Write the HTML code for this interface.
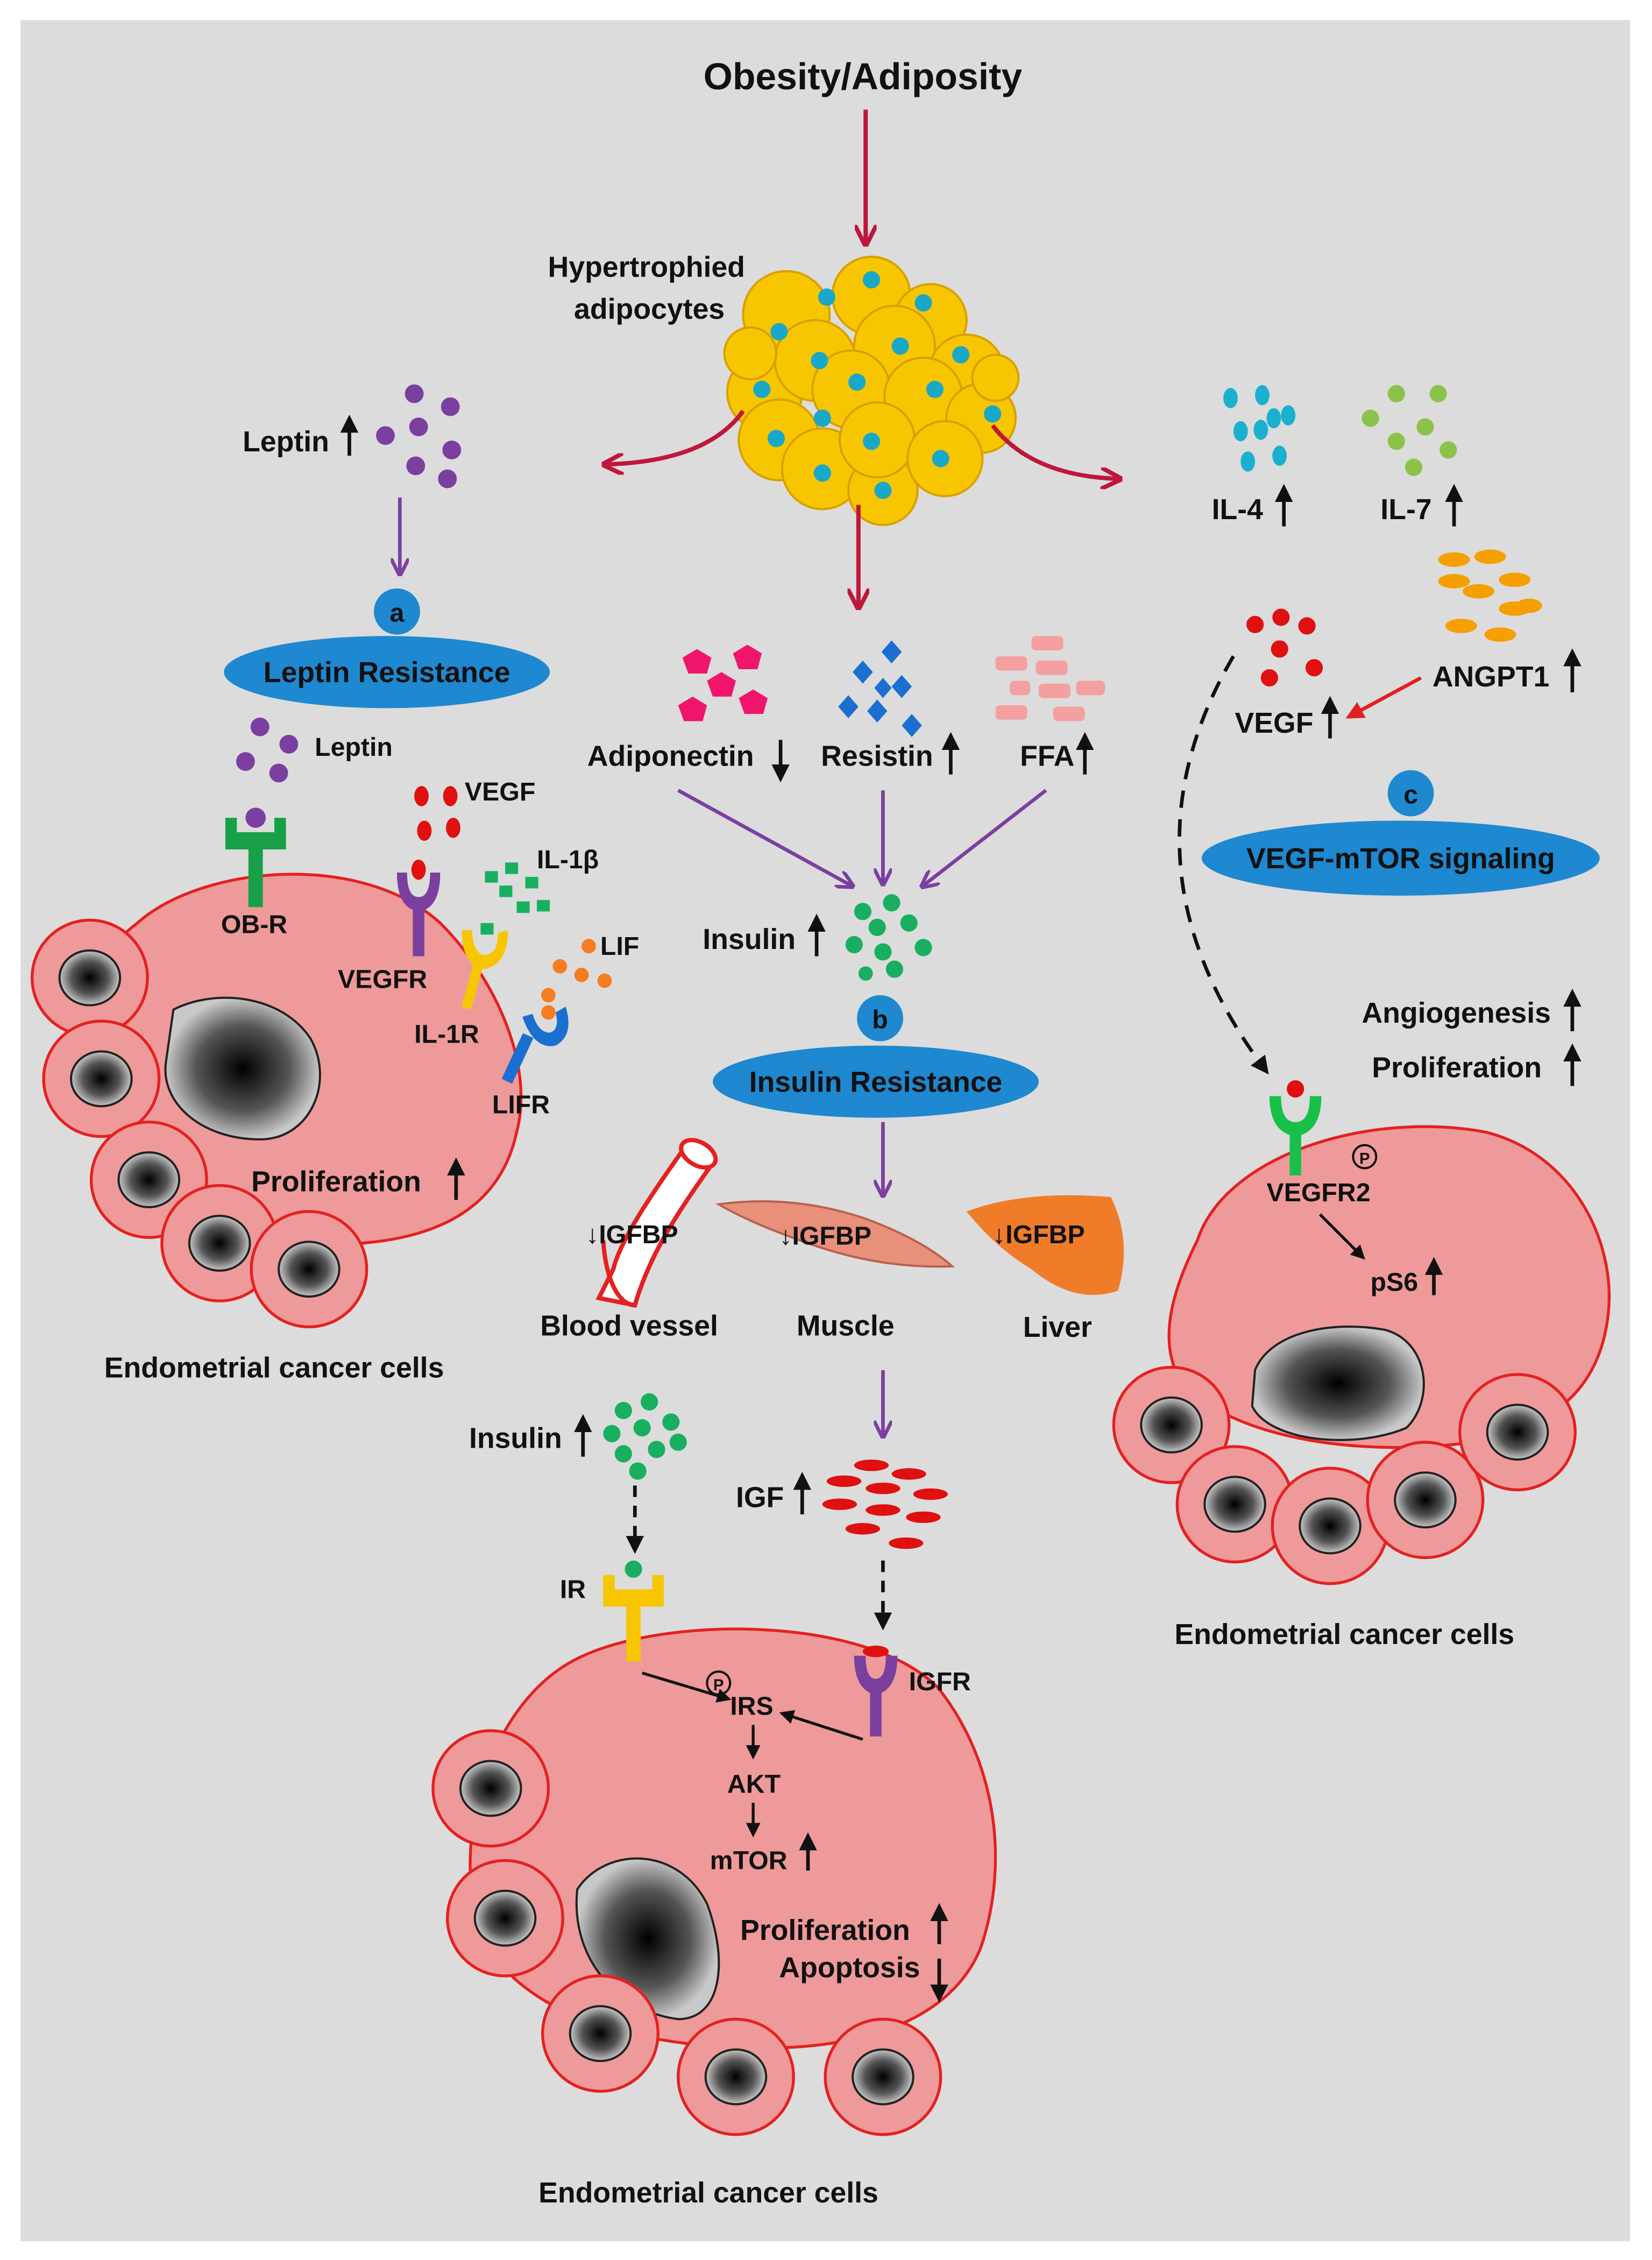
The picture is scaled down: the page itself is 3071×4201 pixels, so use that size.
<!DOCTYPE html>
<html><head><meta charset="utf-8"><style>
html,body{margin:0;padding:0;background:#fff}
svg{display:block}
text{font-family:"Liberation Sans",sans-serif;font-weight:bold;fill:#111}
</style></head><body>
<svg width="3071" height="4201" viewBox="0 0 1145 1567" xmlns="http://www.w3.org/2000/svg">
<defs>
<radialGradient id="nuc" cx="50%" cy="50%" r="50%">
<stop offset="0" stop-color="#000"/><stop offset="0.6" stop-color="#555"/><stop offset="1" stop-color="#c8c8c8"/></radialGradient>
<marker id="ar" viewBox="0 0 10 10" refX="8" refY="5" markerWidth="5" markerHeight="5" orient="auto"><path d="M0,0 L10,5 L0,10" fill="none" stroke="#c0163a" stroke-width="2"/></marker>
<marker id="ap" viewBox="0 0 10 10" refX="8" refY="5" markerWidth="5" markerHeight="5" orient="auto"><path d="M0,0 L10,5 L0,10" fill="none" stroke="#7b3fa0" stroke-width="2"/></marker>
<marker id="ak" viewBox="0 0 10 10" refX="8" refY="5" markerWidth="5" markerHeight="5" orient="auto"><path d="M0,0 L10,5 L0,10 Z" fill="#111"/></marker>
<marker id="ao" viewBox="0 0 10 10" refX="8" refY="5" markerWidth="5" markerHeight="5" orient="auto"><path d="M0,0 L10,5 L0,10 Z" fill="#e02020"/></marker>
<g id="sc"><circle r="40" fill="#ef9a9a" stroke="#e52020" stroke-width="2"/><ellipse rx="21" ry="19" fill="url(#nuc)" stroke="#222" stroke-width="1.5"/></g>
</defs>
<rect width="1145" height="1567" fill="#fff"/>
<rect x="14" y="14" width="1116" height="1540" fill="#dcdcdc"/>

<text x="598" y="62" font-size="26" text-anchor="middle">Obesity/Adiposity</text>
<line x1="600" y1="76" x2="600" y2="168" stroke="#c0163a" stroke-width="3" marker-end="url(#ar)"/>
<text x="448" y="192" font-size="20" text-anchor="middle">Hypertrophied</text>
<text x="450" y="221" font-size="20" text-anchor="middle">adipocytes</text>

<g fill="#f7c600" stroke="#d9a000" stroke-width="1.5">
<circle cx="545" cy="218" r="30"/><circle cx="604" cy="205" r="27"/><circle cx="645" cy="222" r="25"/>
<circle cx="530" cy="272" r="26"/><circle cx="565" cy="250" r="28"/><circle cx="620" cy="240" r="28"/><circle cx="670" cy="258" r="26"/>
<circle cx="540" cy="305" r="28"/><circle cx="590" cy="270" r="27"/><circle cx="640" cy="275" r="27"/><circle cx="680" cy="290" r="24"/>
<circle cx="570" cy="325" r="28"/><circle cx="612" cy="340" r="24"/><circle cx="608" cy="305" r="26"/><circle cx="655" cy="318" r="26"/>
<circle cx="520" cy="245" r="18"/><circle cx="690" cy="262" r="16"/>
</g>
<g fill="#1aa8c8">
<circle cx="573" cy="206" r="6"/><circle cx="604" cy="194" r="6"/><circle cx="640" cy="210" r="6"/><circle cx="540" cy="230" r="6"/>
<circle cx="568" cy="250" r="6"/><circle cx="624" cy="240" r="6"/><circle cx="666" cy="246" r="6"/><circle cx="528" cy="270" r="6"/>
<circle cx="594" cy="265" r="6"/><circle cx="648" cy="270" r="6"/><circle cx="688" cy="287" r="6"/><circle cx="570" cy="290" r="6"/>
<circle cx="538" cy="304" r="6"/><circle cx="604" cy="306" r="6"/><circle cx="652" cy="318" r="6"/><circle cx="570" cy="328" r="6"/><circle cx="612" cy="340" r="6"/>
</g>
<path d="M515,285 Q490,320 420,322" fill="none" stroke="#c0163a" stroke-width="3" marker-end="url(#ar)"/>
<path d="M688,295 Q715,330 775,332" fill="none" stroke="#c0163a" stroke-width="3" marker-end="url(#ar)"/>
<line x1="595" y1="350" x2="595" y2="420" stroke="#c0163a" stroke-width="3" marker-end="url(#ar)"/>

<text x="168" y="313" font-size="20">Leptin</text>
<line x1="242" y1="316" x2="242" y2="290" stroke="#111" stroke-width="2.5" marker-end="url(#ak)"/>
<g fill="#7b3fa0"><circle cx="287" cy="273" r="6.5"/><circle cx="312" cy="282" r="6.5"/><circle cx="267" cy="302" r="6.5"/><circle cx="290" cy="296" r="6.5"/>
<circle cx="313" cy="312" r="6.5"/><circle cx="288" cy="323" r="6.5"/><circle cx="310" cy="332" r="6.5"/></g>
<line x1="277" y1="345" x2="277" y2="397" stroke="#7b3fa0" stroke-width="2.5" marker-end="url(#ap)"/>
<circle cx="275" cy="424" r="16" fill="#1e88d0"/><text x="275" y="431" font-size="18" text-anchor="middle">a</text>
<ellipse cx="268" cy="466" rx="113" ry="25" fill="#1e88d0"/>
<text x="268" y="473" font-size="20" text-anchor="middle">Leptin Resistance</text>
<g fill="#7b3fa0"><circle cx="180" cy="504" r="6.5"/><circle cx="200" cy="516" r="6.5"/><circle cx="170" cy="528" r="6.5"/><circle cx="193" cy="536" r="6.5"/></g>
<text x="218" y="524" font-size="18">Leptin</text>

<g fill="#1ab0d0"><ellipse cx="853" cy="276" rx="5" ry="7"/><ellipse cx="875" cy="274" rx="5" ry="7"/><ellipse cx="860" cy="299" rx="5" ry="7"/><ellipse cx="883" cy="290" rx="5" ry="7"/><ellipse cx="893" cy="288" rx="5" ry="7"/><ellipse cx="865" cy="320" rx="5" ry="7"/><ellipse cx="887" cy="316" rx="5" ry="7"/><ellipse cx="874" cy="298" rx="5" ry="7"/></g>
<g fill="#8bc34a"><circle cx="968" cy="273" r="6"/><circle cx="997" cy="273" r="6"/><circle cx="950" cy="290" r="6"/><circle cx="988" cy="296" r="6"/><circle cx="968" cy="306" r="6"/><circle cx="1004" cy="312" r="6"/><circle cx="980" cy="324" r="6"/></g>
<text x="840" y="360" font-size="20">IL-4</text><line x1="890" y1="365" x2="890" y2="338" stroke="#111" stroke-width="2.5" marker-end="url(#ak)"/>
<text x="957" y="360" font-size="20">IL-7</text><line x1="1008" y1="365" x2="1008" y2="338" stroke="#111" stroke-width="2.5" marker-end="url(#ak)"/>

<g fill="#f5a000"><ellipse cx="1008" cy="388" rx="11" ry="5"/><ellipse cx="1033" cy="386" rx="11" ry="5"/><ellipse cx="1008" cy="403" rx="11" ry="5"/><ellipse cx="1050" cy="402" rx="11" ry="5"/><ellipse cx="1025" cy="410" rx="11" ry="5"/><ellipse cx="1050" cy="422" rx="11" ry="5"/><ellipse cx="1013" cy="434" rx="11" ry="5"/><ellipse cx="1040" cy="440" rx="11" ry="5"/><ellipse cx="1060" cy="420" rx="9" ry="5"/></g>
<g fill="#e01010"><circle cx="870" cy="433" r="6"/><circle cx="888" cy="428" r="6"/><circle cx="906" cy="434" r="6"/><circle cx="887" cy="450" r="6"/><circle cx="880" cy="470" r="6"/><circle cx="911" cy="463" r="6"/></g>
<text x="993" y="476" font-size="20">ANGPT1</text><line x1="1090" y1="480" x2="1090" y2="452" stroke="#111" stroke-width="2.5" marker-end="url(#ak)"/>
<line x1="985" y1="470" x2="935" y2="497" stroke="#e02020" stroke-width="2.5" marker-end="url(#ao)"/>
<text x="856" y="508" font-size="20">VEGF</text><line x1="922" y1="512" x2="922" y2="485" stroke="#111" stroke-width="2.5" marker-end="url(#ak)"/>
<circle cx="978" cy="550" r="16" fill="#1e88d0"/><text x="978" y="557" font-size="18" text-anchor="middle">c</text>
<ellipse cx="971" cy="595" rx="138" ry="26" fill="#1e88d0"/>
<text x="971" y="602" font-size="20" text-anchor="middle">VEGF-mTOR signaling</text>
<path d="M855,455 Q770,600 878,743" fill="none" stroke="#111" stroke-width="2.5" stroke-dasharray="12,8" marker-end="url(#ak)"/>
<text x="944" y="709" font-size="20">Angiogenesis</text><line x1="1090" y1="715" x2="1090" y2="688" stroke="#111" stroke-width="2.5" marker-end="url(#ak)"/>
<text x="951" y="747" font-size="20">Proliferation</text><line x1="1090" y1="753" x2="1090" y2="726" stroke="#111" stroke-width="2.5" marker-end="url(#ak)"/>

<g fill="#f0156a"><polygon points="483,450 493,456 490,467 477,467 473,456"/><polygon points="518,447 528,453 525,464 512,464 508,453"/><polygon points="500,466 510,472 507,483 494,483 490,472"/><polygon points="480,483 490,489 487,500 474,500 470,489"/><polygon points="522,478 532,484 529,495 516,495 512,484"/></g>
<g fill="#1a6fd0"><polygon points="618,444 625,452 618,460 611,452"/><polygon points="598,458 605,466 598,474 591,466"/><polygon points="625,468 632,476 625,484 618,476"/><polygon points="588,482 595,490 588,498 581,490"/><polygon points="608,485 615,493 608,501 601,493"/><polygon points="632,495 639,503 632,511 625,503"/><polygon points="612,470 618,477 612,484 606,477"/></g>
<g fill="#f4a0a0"><rect x="715" y="441" width="22" height="10" rx="3"/><rect x="690" y="455" width="22" height="10" rx="3"/><rect x="718" y="458" width="22" height="10" rx="3"/><rect x="746" y="472" width="20" height="10" rx="3"/><rect x="720" y="474" width="22" height="10" rx="3"/><rect x="690" y="489" width="22" height="10" rx="3"/><rect x="730" y="490" width="22" height="10" rx="3"/><rect x="700" y="472" width="14" height="10" rx="3"/></g>
<text x="407" y="531" font-size="20">Adiponectin</text><line x1="541" y1="513" x2="541" y2="540" stroke="#111" stroke-width="2.5" marker-end="url(#ak)"/>
<text x="569" y="531" font-size="20">Resistin</text><line x1="659" y1="537" x2="659" y2="510" stroke="#111" stroke-width="2.5" marker-end="url(#ak)"/>
<text x="707" y="531" font-size="20">FFA</text><line x1="752" y1="537" x2="752" y2="510" stroke="#111" stroke-width="2.5" marker-end="url(#ak)"/>
<line x1="470" y1="548" x2="590" y2="614" stroke="#7b3fa0" stroke-width="2.5" marker-end="url(#ap)"/>
<line x1="612" y1="548" x2="612" y2="612" stroke="#7b3fa0" stroke-width="2.5" marker-end="url(#ap)"/>
<line x1="725" y1="548" x2="640" y2="614" stroke="#7b3fa0" stroke-width="2.5" marker-end="url(#ap)"/>
<g fill="#18b060"><circle cx="598" cy="632" r="6"/><circle cx="618" cy="626" r="6"/><circle cx="608" cy="643" r="6"/><circle cx="630" cy="640" r="6"/><circle cx="592" cy="655" r="6"/><circle cx="612" cy="660" r="6"/><circle cx="640" cy="657" r="6"/><circle cx="620" cy="672" r="6"/><circle cx="600" cy="675" r="5"/></g>
<text x="487" y="658" font-size="20">Insulin</text><line x1="566" y1="663" x2="566" y2="636" stroke="#111" stroke-width="2.5" marker-end="url(#ak)"/>
<circle cx="610" cy="706" r="16" fill="#1e88d0"/><text x="610" y="713" font-size="18" text-anchor="middle">b</text>
<ellipse cx="607" cy="750" rx="113" ry="25" fill="#1e88d0"/>
<text x="607" y="757" font-size="20" text-anchor="middle">Insulin Resistance</text>
<line x1="612" y1="778" x2="612" y2="828" stroke="#7b3fa0" stroke-width="2.5" marker-end="url(#ap)"/>

<!-- tissues -->
<path d="M475,795 C450,830 430,860 425,880 L415,900 L440,905 C450,870 470,840 495,805 Z" fill="#fff" stroke="#e52020" stroke-width="3"/>
<path d="M418,860 C420,890 430,905 440,905" fill="none" stroke="#e52020" stroke-width="3"/>
<ellipse cx="484" cy="800" rx="13" ry="8" transform="rotate(30 484 800)" fill="#fff" stroke="#e52020" stroke-width="3"/>
<path d="M498,835 Q550,828 600,845 Q640,860 660,878 Q610,880 560,862 Q520,848 498,835 Z" fill="#e8907a" stroke="#b86050" stroke-width="1.5"/>
<path d="M670,840 Q710,825 770,830 Q785,860 775,895 Q745,905 715,880 Q690,865 670,840 Z" fill="#f07c2a"/>
<text x="406" y="862" font-size="18">↓IGFBP</text>
<text x="540" y="863" font-size="18">↓IGFBP</text>
<text x="688" y="862" font-size="18">↓IGFBP</text>
<text x="436" y="926" font-size="20" text-anchor="middle">Blood vessel</text>
<text x="586" y="926" font-size="20" text-anchor="middle">Muscle</text>
<text x="733" y="927" font-size="20" text-anchor="middle">Liver</text>
<line x1="612" y1="950" x2="612" y2="995" stroke="#7b3fa0" stroke-width="2.5" marker-end="url(#ap)"/>

<g fill="#18b060"><circle cx="432" cy="978" r="6"/><circle cx="450" cy="972" r="6"/><circle cx="424" cy="994" r="6"/><circle cx="445" cy="990" r="6"/><circle cx="465" cy="986" r="6"/><circle cx="432" cy="1008" r="6"/><circle cx="455" cy="1005" r="6"/><circle cx="470" cy="1000" r="6"/><circle cx="442" cy="1020" r="6"/></g>
<text x="325" y="1004" font-size="20">Insulin</text><line x1="404" y1="1010" x2="404" y2="983" stroke="#111" stroke-width="2.5" marker-end="url(#ak)"/>
<line x1="440" y1="1030" x2="440" y2="1075" stroke="#111" stroke-width="2.5" stroke-dasharray="8,6" marker-end="url(#ak)"/>
<g fill="#e01010"><ellipse cx="604" cy="1016" rx="12" ry="4"/><ellipse cx="630" cy="1022" rx="12" ry="4"/><ellipse cx="585" cy="1027" rx="12" ry="4"/><ellipse cx="612" cy="1032" rx="12" ry="4"/><ellipse cx="645" cy="1036" rx="12" ry="4"/><ellipse cx="582" cy="1043" rx="12" ry="4"/><ellipse cx="612" cy="1047" rx="12" ry="4"/><ellipse cx="640" cy="1052" rx="12" ry="4"/><ellipse cx="598" cy="1060" rx="12" ry="4"/><ellipse cx="628" cy="1070" rx="12" ry="4"/></g>
<text x="510" y="1045" font-size="20">IGF</text><line x1="556" y1="1050" x2="556" y2="1023" stroke="#111" stroke-width="2.5" marker-end="url(#ak)"/>
<line x1="612" y1="1082" x2="612" y2="1128" stroke="#111" stroke-width="2.5" stroke-dasharray="8,6" marker-end="url(#ak)"/>

<!-- LEFT cluster -->
<path d="M95,640 C140,600 250,590 305,640 C345,680 370,740 358,785 C345,845 290,868 200,862 C110,855 60,790 58,720 C58,680 75,655 95,640 Z" fill="#ef9a9a" stroke="#e52020" stroke-width="2"/>
<path d="M120,700 C150,685 195,690 215,720 C232,750 215,790 180,790 C140,790 110,765 115,735 Z" fill="url(#nuc)" stroke="#222" stroke-width="1.5"/>
<use href="#sc" x="62" y="678"/><use href="#sc" x="70" y="748"/><use href="#sc" x="103" y="818"/><use href="#sc" x="152" y="862"/><use href="#sc" x="214" y="880"/>
<text x="174" y="826" font-size="20">Proliferation</text><line x1="316" y1="832" x2="316" y2="805" stroke="#111" stroke-width="2.5" marker-end="url(#ak)"/>
<text x="72" y="955" font-size="20">Endometrial cancer cells</text>
<path d="M156,567 h8 v10 h26 v-10 h8 v22 h-16 v40 h-10 v-40 h-16 Z" fill="#18a048"/>
<circle cx="177" cy="567" r="7" fill="#7b3fa0"/>
<text x="153" y="647" font-size="18">OB-R</text>
<path d="M275,605 Q275,630 290,632 Q305,630 305,605 L298,605 Q298,622 290,622 Q282,622 282,605 Z" fill="#7b3fa0"/>
<rect x="286" y="628" width="8" height="35" fill="#7b3fa0"/>
<g fill="#e01010"><ellipse cx="292" cy="552" rx="5" ry="7"/><ellipse cx="312" cy="552" rx="5" ry="7"/><ellipse cx="294" cy="576" rx="5" ry="7"/><ellipse cx="314" cy="574" rx="5" ry="7"/><ellipse cx="290" cy="603" rx="5" ry="7"/></g>
<text x="322" y="555" font-size="18">VEGF</text>
<text x="234" y="685" font-size="18">VEGFR</text>
<path d="M320,645 Q320,670 336,672 Q352,668 352,645 L345,647 Q345,662 336,662 Q328,662 327,645 Z" fill="#f7c600"/>
<rect x="328" y="668" width="7" height="32" fill="#f7c600" transform="rotate(15 331 668)"/>
<g fill="#18b060"><rect x="336" y="604" width="9" height="8"/><rect x="350" y="598" width="9" height="8"/><rect x="346" y="614" width="9" height="8"/><rect x="364" y="608" width="9" height="8"/><rect x="358" y="625" width="9" height="8"/><rect x="372" y="624" width="9" height="8"/><rect x="333" y="640" width="9" height="8"/></g>
<text x="372" y="602" font-size="18">IL-1β</text>
<text x="287" y="723" font-size="18">IL-1R</text>
<path d="M362,705 Q370,728 385,725 Q398,718 392,698 L385,702 Q388,714 381,716 Q373,716 369,703 Z" fill="#1a6fd0"/>
<rect x="362" y="718" width="8" height="35" fill="#1a6fd0" transform="rotate(25 366 718)"/>
<g fill="#f57c20"><circle cx="408" cy="656" r="5"/><circle cx="388" cy="670" r="5"/><circle cx="403" cy="676" r="5"/><circle cx="419" cy="680" r="5"/><circle cx="380" cy="690" r="5"/><circle cx="380" cy="702" r="5"/></g>
<text x="416" y="662" font-size="18">LIF</text>
<text x="341" y="772" font-size="18">LIFR</text>

<!-- RIGHT cluster -->
<path d="M830,860 C850,800 950,770 1030,785 C1090,800 1120,860 1115,910 C1110,960 1080,990 1020,1000 C950,1010 860,1000 820,960 C800,930 815,890 830,860 Z" fill="#ef9a9a" stroke="#e52020" stroke-width="2"/>
<path d="M870,950 C880,925 920,915 960,922 C990,930 995,970 975,990 C940,1005 880,1000 868,975 Z" fill="url(#nuc)" stroke="#222" stroke-width="1.5"/>
<use href="#sc" x="812" y="988"/><use href="#sc" x="856" y="1043"/><use href="#sc" x="922" y="1058"/><use href="#sc" x="988" y="1040"/><use href="#sc" x="1052" y="993"/>
<path d="M880,760 Q880,785 898,788 Q916,785 916,760 L908,760 Q908,778 898,778 Q888,778 888,760 Z" fill="#18c048"/>
<rect x="894" y="785" width="8" height="30" fill="#18c048"/>
<circle cx="898" cy="755" r="6" fill="#e01010"/>
<circle cx="946" cy="802" r="8" fill="none" stroke="#111" stroke-width="1.5"/><text x="946" y="807" font-size="11" text-anchor="middle">P</text>
<text x="878" y="833" font-size="18">VEGFR2</text>
<line x1="915" y1="842" x2="945" y2="872" stroke="#111" stroke-width="2" marker-end="url(#ak)"/>
<text x="950" y="895" font-size="18">pS6</text><line x1="994" y1="898" x2="994" y2="874" stroke="#111" stroke-width="2.5" marker-end="url(#ak)"/>
<text x="932" y="1140" font-size="20" text-anchor="middle">Endometrial cancer cells</text>

<!-- BOTTOM cluster -->
<path d="M400,1150 C460,1120 600,1120 650,1170 C690,1220 700,1290 680,1350 C660,1400 600,1420 530,1420 C450,1420 350,1400 330,1330 C315,1270 340,1180 400,1150 Z" fill="#ef9a9a" stroke="#e52020" stroke-width="2"/>
<path d="M400,1310 C420,1280 470,1280 490,1320 C505,1360 500,1400 470,1400 C430,1395 395,1360 400,1310 Z" fill="url(#nuc)" stroke="#222" stroke-width="1.5"/>
<use href="#sc" x="340" y="1240"/><use href="#sc" x="350" y="1330"/><use href="#sc" x="416" y="1410"/><use href="#sc" x="510" y="1440"/><use href="#sc" x="612" y="1440"/>
<path d="M418,1092 h8 v10 h26 v-10 h8 v22 h-16 v38 h-10 v-38 h-16 Z" fill="#f7c600"/>
<circle cx="439" cy="1088" r="6" fill="#18b060"/>
<text x="388" y="1108" font-size="18">IR</text>
<path d="M592,1148 Q592,1172 607,1175 Q622,1172 622,1148 L614,1148 Q614,1164 607,1164 Q600,1164 600,1148 Z" fill="#7b3fa0"/>
<rect x="603" y="1172" width="8" height="32" fill="#7b3fa0"/>
<ellipse cx="607" cy="1145" rx="9" ry="4" fill="#e01010"/>
<text x="630" y="1172" font-size="18">IGFR</text>
<line x1="445" y1="1160" x2="505" y2="1178" stroke="#111" stroke-width="2" marker-end="url(#ak)"/>
<line x1="598" y1="1206" x2="542" y2="1188" stroke="#111" stroke-width="2" marker-end="url(#ak)"/>
<circle cx="498" cy="1167" r="8" fill="none" stroke="#111" stroke-width="1.5"/><text x="498" y="1172" font-size="11" text-anchor="middle">P</text>
<text x="506" y="1189" font-size="18">IRS</text>
<line x1="522" y1="1196" x2="522" y2="1218" stroke="#111" stroke-width="2" marker-end="url(#ak)"/>
<text x="504" y="1243" font-size="18">AKT</text>
<line x1="522" y1="1250" x2="522" y2="1272" stroke="#111" stroke-width="2" marker-end="url(#ak)"/>
<text x="492" y="1296" font-size="18">mTOR</text><line x1="560" y1="1297" x2="560" y2="1273" stroke="#111" stroke-width="2.5" marker-end="url(#ak)"/>
<text x="513" y="1345" font-size="20">Proliferation</text><line x1="651" y1="1348" x2="651" y2="1322" stroke="#111" stroke-width="2.5" marker-end="url(#ak)"/>
<text x="540" y="1371" font-size="20">Apoptosis</text><line x1="651" y1="1358" x2="651" y2="1386" stroke="#111" stroke-width="2.5" marker-end="url(#ak)"/>
<text x="491" y="1527" font-size="20" text-anchor="middle">Endometrial cancer cells</text>
</svg>
</body></html>
